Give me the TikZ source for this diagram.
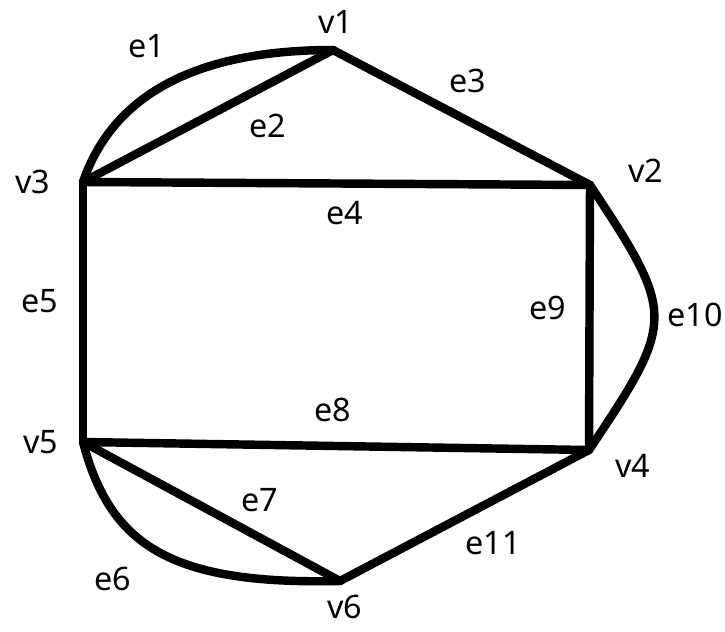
\documentclass[tikz,border=0pt]{standalone}
\usepackage{fontspec}
\setmainfont{Noto Sans}
\usepackage{tikz}

\begin{document}
\begin{tikzpicture}[
    x=0.025cm, y=-0.025cm,
    edge/.style={line width=6pt, line cap=round, line join=round},
    vlabel/.style={font=\fontsize{23}{27}\selectfont, inner sep=0pt},
    elabel/.style={font=\fontsize{23}{27}\selectfont, inner sep=0pt},
  ]
  \useasboundingbox (0,0) rectangle (725,632);

  % Vertices
  \coordinate (v1) at (333,50);
  \coordinate (v2) at (590,185);
  \coordinate (v3) at (83,182);
  \coordinate (v4) at (589,450);
  \coordinate (v5) at (83,442);
  \coordinate (v6) at (340,581);

  % Vertex labels
  \node[vlabel] (lv1) at (336,22) {v1};
  \node[vlabel] (lv2) at (646,171) {v2};
  \node[vlabel] (lv3) at (33,182) {v3};
  \node[vlabel] (lv4) at (633,466) {v4};
  \node[vlabel] (lv5) at (41,442) {v5};
  \node[vlabel] (lv6) at (345,607) {v6};

  % Edges
  \draw[edge] (v3) .. controls (114,92) and (200,50) .. (v1);
  \draw[edge] (v3) -- (v1);
  \draw[edge] (v1) -- (v2);
  \draw[edge] (v3) -- (v2);
  \draw[edge] (v3) -- (v5);
  \draw[edge] (v5) .. controls (110,545) and (170,585) .. (v6);
  \draw[edge] (v5) -- (v6);
  \draw[edge] (v5) -- (v4);
  \draw[edge] (v2) -- (v4);
  \draw[edge] (v2) .. controls (676,315) and (676,320) .. (v4);
  \draw[edge] (v4) -- (v6);

  % Edge labels
  \node[elabel] (le1) at (147,46) {e1};
  \node[elabel] (le2) at (268,126) {e2};
  \node[elabel] (le3) at (468,81) {e3};
  \node[elabel] (le4) at (345,213) {e4};
  \node[elabel] (le5) at (40,301) {e5};
  \node[elabel] (le6) at (113,579) {e6};
  \node[elabel] (le7) at (260,500) {e7};
  \node[elabel] (le8) at (333,410) {e8};
  \node[elabel] (le9) at (548,308) {e9};
  \node[elabel] (le10) at (695,315) {e10};
  \node[elabel] (le11) at (493,543) {e11};

\end{tikzpicture}
\end{document}
